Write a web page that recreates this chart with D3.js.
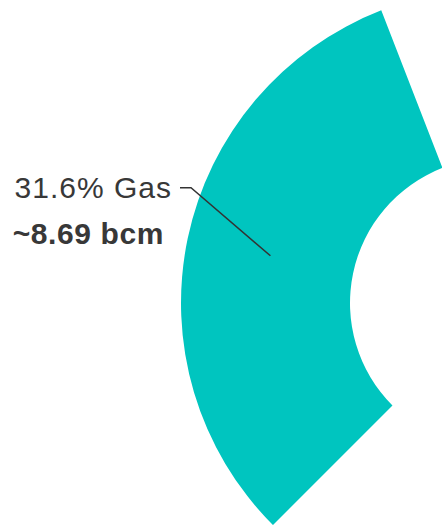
<!DOCTYPE html>
<html>
<head>
<meta charset="utf-8">
<script src="https://cdn.jsdelivr.net/npm/d3@7"></script>
<style>
  html, body { margin: 0; padding: 0; background: #ffffff; overflow: hidden; }
  svg { display: block; }
</style>
</head>
<body>
<svg id="chart" width="442" height="525"></svg>
<script>
const categories = ["Gas", "Other"];
const shares = [31.6, 68.4];
const volumes = ["~8.69 bcm", ""];
const colors = ["#00c5bf", "none"];

const W = 442, H = 525;
const cx = 495, cy = 303;
const outerR = 314, innerR = 145;

const svg = d3.select("#chart");
const g = svg.append("g").attr("transform", `translate(${cx},${cy})`);

const data = categories.map((c, i) => ({ cat: c, value: shares[i], vol: volumes[i], color: colors[i] }));

const startA = 225 * Math.PI / 180;
const pie = d3.pie().sort(null).value(d => d.value)
  .startAngle(startA).endAngle(startA + 2 * Math.PI);
const arc = d3.arc().innerRadius(innerR).outerRadius(outerR);

const arcs = pie(data);

g.selectAll("path.slice")
  .data(arcs.filter(d => d.data.color !== "none"))
  .join("path")
  .attr("class", "slice")
  .attr("d", arc)
  .attr("fill", d => d.data.color);

// label for Gas slice
const gas = arcs[0];
const [px, py] = arc.centroid(gas);
const elbowX = 191 - cx, elbowY = 187.7 - cy;
const startX = 180 - cx;

g.append("polyline")
  .attr("points", [[px, py], [elbowX, elbowY], [startX, elbowY]].map(p => p.join(",")).join(" "))
  .attr("fill", "none")
  .attr("stroke", "#333333")
  .attr("stroke-width", 1.5);

const label = g.append("text")
  .attr("text-anchor", "end")
  .attr("font-family", "Liberation Sans, Arial, sans-serif")
  .attr("font-size", 30)
  .attr("fill", "#383838");

label.append("tspan")
  .attr("x", startX - 8)
  .attr("y", 197.5 - cy)
  .attr("letter-spacing", "1px")
  .text(`${gas.data.value.toFixed(1)}% ${gas.data.cat}`);

label.append("tspan")
  .attr("x", startX - 16)
  .attr("y", 244 - cy)
  .attr("font-weight", "bold")
  .attr("letter-spacing", "0.6px")
  .text(gas.data.vol);
</script>
</body>
</html>
